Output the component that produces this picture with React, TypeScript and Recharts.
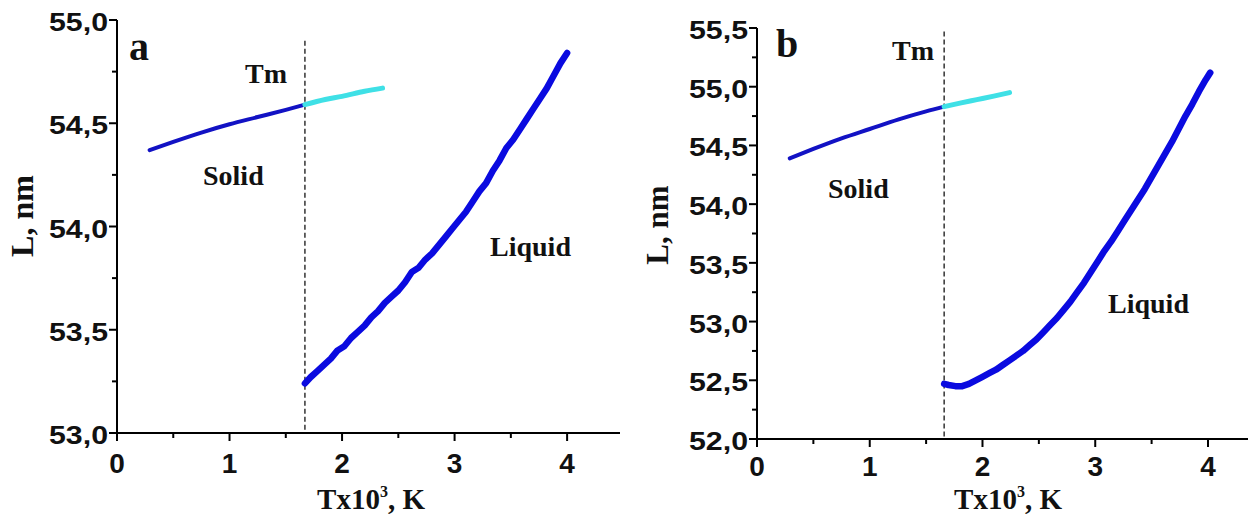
import React from 'react';
import { LineChart, Line, XAxis, YAxis, ReferenceLine } from 'recharts';

// panel a: T (x10^3 K), L (nm)
const solidA: [number, number][] = [
  [0.29, 54.37], [0.5, 54.41], [0.75, 54.455], [1.0, 54.495], [1.25, 54.53], [1.5, 54.565], [1.67, 54.59],
];
const cyanA: [number, number][] = [
  [1.67, 54.59], [1.85, 54.615], [2.0, 54.63], [2.2, 54.655], [2.36, 54.67],
];
const liquidA: [number, number][] = [
  [1.67, 53.24], [1.72, 53.27], [1.78, 53.30], [1.84, 53.33], [1.9, 53.36], [1.96, 53.40],
  [2.02, 53.42], [2.08, 53.46], [2.14, 53.49], [2.2, 53.52], [2.26, 53.56], [2.32, 53.59],
  [2.38, 53.63], [2.44, 53.66], [2.5, 53.69], [2.56, 53.73], [2.62, 53.78], [2.68, 53.80],
  [2.74, 53.84], [2.8, 53.87], [2.86, 53.91], [2.92, 53.95], [2.98, 53.99], [3.04, 54.03],
  [3.1, 54.07], [3.16, 54.12], [3.22, 54.17], [3.28, 54.21], [3.34, 54.27], [3.4, 54.32],
  [3.46, 54.38], [3.52, 54.42], [3.58, 54.47], [3.64, 54.52], [3.7, 54.57], [3.76, 54.62],
  [3.82, 54.67], [3.88, 54.73], [3.94, 54.79], [4.0, 54.84],
];

// panel b
const solidB: [number, number][] = [
  [0.29, 54.39], [0.5, 54.47], [0.75, 54.56], [1.0, 54.64], [1.25, 54.72], [1.5, 54.79], [1.66, 54.83],
];
const cyanB: [number, number][] = [
  [1.66, 54.83], [1.8, 54.86], [1.95, 54.89], [2.1, 54.92], [2.24, 54.95],
];
const liquidB: [number, number][] = [
  [1.66, 52.47], [1.7, 52.46], [1.76, 52.45], [1.82, 52.45], [1.88, 52.47], [1.94, 52.5],
  [2.0, 52.53], [2.06, 52.56], [2.12, 52.59], [2.18, 52.63], [2.24, 52.67], [2.3, 52.71],
  [2.36, 52.75], [2.42, 52.8], [2.48, 52.85], [2.54, 52.91], [2.6, 52.97], [2.66, 53.03],
  [2.72, 53.1], [2.78, 53.17], [2.84, 53.25], [2.9, 53.33], [2.96, 53.42], [3.02, 53.51],
  [3.08, 53.6], [3.14, 53.68], [3.2, 53.77], [3.26, 53.86], [3.32, 53.95], [3.38, 54.04],
  [3.44, 54.13], [3.5, 54.23], [3.56, 54.33], [3.62, 54.43], [3.68, 54.53], [3.74, 54.64],
  [3.8, 54.75], [3.86, 54.85], [3.92, 54.96], [3.98, 55.06], [4.02, 55.12],
];

const xTicks = [0, 0.5, 1, 1.5, 2, 2.5, 3, 3.5, 4];
const yTicksA = [53, 53.25, 53.5, 53.75, 54, 54.25, 54.5, 54.75, 55];
const yTicksB = [52, 52.25, 52.5, 52.75, 53, 53.25, 53.5, 53.75, 54, 54.25, 54.5, 54.75, 55, 55.25, 55.5];

const rows = (pts: [number, number][]) => pts.map(([t, L]) => ({ t, L }));

const SANS = '"Liberation Sans", Arial, sans-serif';
const SERIF = '"Liberation Serif", "Times New Roman", serif';

const XTick = ({ x, y, payload, off = 40 }: any) => {
  const major = Number.isInteger(payload.value);
  return (
    <g>
      <line x1={x} x2={x} y1={y} y2={y + (major ? 8 : 5)} stroke="#000" strokeWidth={2} />
      {major && (
        <text x={x} y={y + off} textAnchor="middle" fontFamily={SANS} fontWeight="bold" fontSize={28} fill="#111">
          {payload.value}
        </text>
      )}
    </g>
  );
};

const YTick = ({ x, y, payload }: any) => {
  const v = payload.value;
  const major = Math.abs(v * 2 - Math.round(v * 2)) < 1e-6;
  return (
    <g>
      <line x1={x - (major ? 8 : 5)} x2={x} y1={y} y2={y} stroke="#000" strokeWidth={2} />
      {major && (
        <text x={x - 9} y={y + 11} textAnchor="end" fontFamily={SANS} fontWeight="bold" fontSize={25}
          textLength={59} lengthAdjust="spacingAndGlyphs" fill="#111">
          {v.toFixed(1).replace('.', ',')}
        </text>
      )}
    </g>
  );
};

const Panel = ({ width, yWidth, top, xHeight, xMax, yDomain, yTicks, solid, cyan, liquid, tm, tmTop, tickOff }: any) => (
  <LineChart width={width} height={520} margin={{ top, right: 10, bottom: 0, left: 0 }}>
    <XAxis type="number" dataKey="t" domain={[0, xMax]} ticks={xTicks} allowDataOverflow
      height={xHeight} tickSize={0} tickMargin={0} tickLine={false} tick={<XTick off={tickOff} />}
      axisLine={{ stroke: '#000', strokeWidth: 2 }} />
    <YAxis type="number" dataKey="L" domain={yDomain} ticks={yTicks} allowDataOverflow
      width={yWidth} tickSize={0} tickMargin={0} tickLine={false} tick={<YTick />}
      axisLine={{ stroke: '#000', strokeWidth: 2 }} />
    <ReferenceLine segment={[{ x: tm, y: tmTop }, { x: tm, y: yDomain[0] }]} stroke="#333"
      strokeWidth={1.5} strokeDasharray="5 3" />
    <Line data={rows(solid)} dataKey="L" type="monotone" stroke="#1212c4" strokeWidth={4}
      dot={false} isAnimationActive={false} strokeLinecap="round" />
    <Line data={rows(cyan)} dataKey="L" type="monotone" stroke="#3fe0e6" strokeWidth={5}
      dot={false} isAnimationActive={false} strokeLinecap="round" />
    <Line data={rows(liquid)} dataKey="L" type="linear" stroke="#0a0ae0" strokeWidth={6.5}
      dot={false} isAnimationActive={false} strokeLinecap="round" strokeLinejoin="round" />
  </LineChart>
);

const T = ({ x, y, size = 28, children, anchor = 'start' }: any) => (
  <text x={x} y={y} fontFamily={SERIF} fontWeight="bold" fontSize={size} fill="#111" textAnchor={anchor}>
    {children}
  </text>
);

const XTitle = ({ cx }: { cx: number }) => (
  <text x={cx} y={509} textAnchor="middle" fontFamily={SERIF} fontWeight="bold" fontSize={29} fill="#111">
    Tx10<tspan dy={-12} fontSize={16}>3</tspan><tspan dy={12}>, K</tspan>
  </text>
);

export default function App() {
  return (
    <div style={{ position: 'absolute', left: 0, top: 0, width: 1258, height: 520, background: '#fff' }}>
      <div style={{ position: 'absolute', left: 0, top: 0 }}>
        <Panel width={630} yWidth={117} top={20} xHeight={87} xMax={4.47} yDomain={[53, 55]}
          yTicks={yTicksA} solid={solidA} cyan={cyanA} liquid={liquidA} tm={1.67} tmTop={54.9} tickOff={40} />
      </div>
      <div style={{ position: 'absolute', left: 630, top: 0 }}>
        <Panel width={628} yWidth={127} top={28} xHeight={81} xMax={4.355} yDomain={[52, 55.5]}
          yTicks={yTicksB} solid={solidB} cyan={cyanB} liquid={liquidB} tm={1.66} tmTop={55.47} tickOff={37} />
      </div>
      <svg width={1258} height={520} style={{ position: 'absolute', left: 0, top: 0, pointerEvents: 'none' }}>
        <T x={129} y={60} size={40}>a</T>
        <T x={245} y={83}>Tm</T>
        <T x={203} y={185}>Solid</T>
        <T x={490} y={256}>Liquid</T>
        <XTitle cx={371} />
        <text transform="translate(33,216) rotate(-90)" textAnchor="middle" fontFamily={SERIF}
          fontWeight="bold" fontSize={32} fill="#111">L, nm</text>

        <T x={776} y={57} size={40}>b</T>
        <T x={892} y={60}>Tm</T>
        <T x={828} y={198}>Solid</T>
        <T x={1108} y={313}>Liquid</T>
        <XTitle cx={1008} />
        <text transform="translate(668,225) rotate(-90)" textAnchor="middle" fontFamily={SERIF}
          fontWeight="bold" fontSize={31} fill="#111">L, nm</text>
      </svg>
    </div>
  );
}
